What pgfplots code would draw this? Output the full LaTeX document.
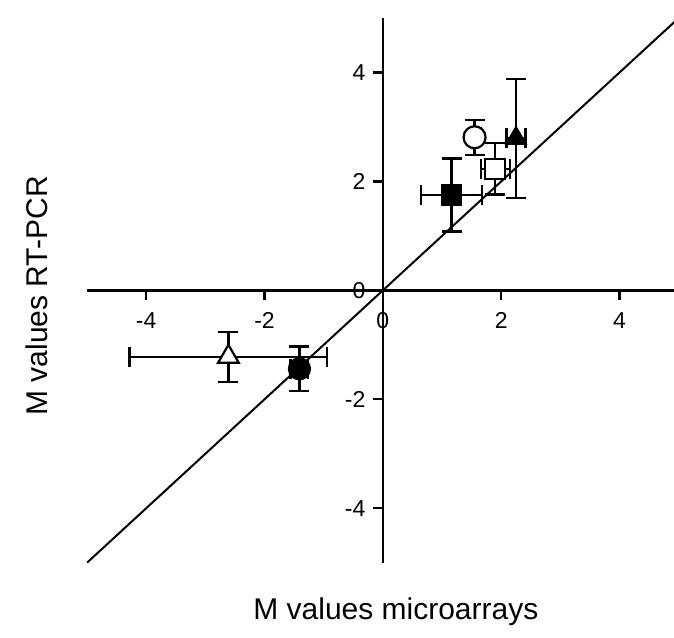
\documentclass[border=0pt]{standalone}
\usepackage{pgfplots}
\pgfplotsset{compat=1.18}
\usepackage{fontspec}
\setmainfont{Liberation Sans}

\begin{document}
\begin{tikzpicture}
\begin{axis}[
  scale only axis,
  width=592pt, height=545pt,
  xmin=-5, xmax=5, ymin=-5, ymax=5,
  axis lines=middle,
  axis line style={line width=2.4pt, -},
  xtick={-4,-2,0,2,4}, ytick={-4,-2,0,2,4},
  hide obscured x ticks=false, hide obscured y ticks=false,
  tick align=outside,
  major tick length=10pt,
  tick style={line width=2.2pt, black},
  /pgf/number format/assume math mode=true,
  tick label style={font=\fontsize{23}{27}\selectfont},
  xticklabel style={yshift=-9pt},
  yticklabel style={xshift=-4pt},
  xlabel={M values microarrays},
  ylabel={M values RT-PCR},
  label style={font=\fontsize{30}{35}\selectfont},
  xlabel style={at={(axis description cs:0.522,-0.09)}, anchor=center},
  ylabel style={at={(axis description cs:-0.084,0.49)}, anchor=center, rotate=90},
  error bars/y dir=both, error bars/y explicit,
  error bars/x dir=both, error bars/x explicit,
  error bars/error bar style={line width=2.2pt, black},
  error bars/error mark options={line width=2.2pt, black, mark size=10pt, rotate=90},
]
% line of identity
\addplot[black, line width=2pt, no marks, forget plot, error bars/y dir=none, error bars/x dir=none]
  coordinates {(-5,-5) (5,5)};

% filled square
\addplot[only marks, mark=square*, mark size=10pt, mark options={fill=black, draw=black, line width=1.5pt}]
  coordinates {(1.16,1.75) +- (0.51,0.67)};
% open circle
\addplot[only marks, mark=*, mark size=11pt, mark options={fill=white, draw=black, line width=2.2pt}]
  coordinates {(1.55,2.81) +- (0.10,0.32)};
% open square
\addplot[only marks, mark=square*, mark size=10pt, mark options={fill=white, draw=black, line width=2.2pt}]
  coordinates {(1.90,2.23) +- (0.245,0.47)};
% filled triangle
\addplot[only marks, mark=triangle*, mark size=12pt, mark options={fill=black, draw=black, line width=1.2pt}]
  coordinates {(2.25,2.79) +- (0.16,1.09)};
% open triangle
\addplot[only marks, mark=triangle*, mark size=12pt, mark options={fill=white, draw=black, line width=2.2pt}]
  coordinates {(-2.61,-1.22) +- (1.67,0.455)};
% filled circle
\addplot[only marks, mark=*, mark size=11pt, mark options={fill=black, draw=black, line width=1.2pt}]
  coordinates {(-1.41,-1.44) +- (0.15,0.41)};

\coordinate (bl) at (axis cs:-6.47,-6.37);
\coordinate (tr) at (axis cs:4.92,5.33);
\end{axis}
\pgfresetboundingbox
\path (bl) rectangle (tr);
\end{tikzpicture}
\end{document}
